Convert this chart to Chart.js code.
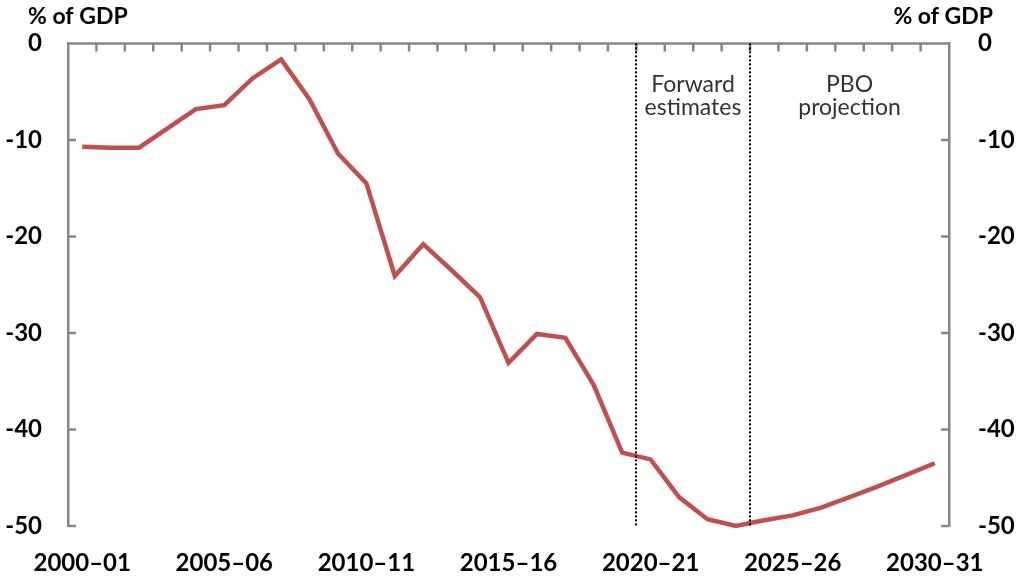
<!DOCTYPE html>
<html>
<head>
<meta charset="utf-8">
<script src="https://cdn.jsdelivr.net/npm/chart.js@4.4.1/dist/chart.umd.min.js"></script>
<style>
  html, body { margin: 0; padding: 0; background: #fff; }
  #wrap { width: 1018px; height: 576px; }
</style>
</head>
<body>
<div id="wrap"><canvas id="chart" width="1018" height="576"></canvas></div>
<script>
const years = [
  '2000–01', '2001–02', '2002–03', '2003–04', '2004–05', '2005–06', '2006–07', '2007–08',
  '2008–09', '2009–10', '2010–11', '2011–12', '2012–13', '2013–14', '2014–15', '2015–16',
  '2016–17', '2017–18', '2018–19', '2019–20', '2020–21', '2021–22', '2022–23', '2023–24',
  '2024–25', '2025–26', '2026–27', '2027–28', '2028–29', '2029–30', '2030–31'
];
const balance = [
  -10.7, -10.8, -10.8, -8.8, -6.8, -6.4, -3.6, -1.65,
  -5.8, -11.4, -14.5, -24.1, -20.8, -23.5, -26.3, -33.1,
  -30.1, -30.5, -35.4, -42.4, -43.1, -47.0, -49.3, -50.0,
  -49.4, -48.9, -48.1, -47.0, -45.9, -44.7, -43.5
];
const yTicks = [0, -10, -20, -30, -40, -50];
const axisTitle = '% of GDP';
// dotted dividers fall after these years
const breakAfter = ['2019–20', '2023–24'];
const periodNotes = [['Forward', 'estimates'], ['PBO', 'projection']];

const grey = '#868686';
const tickFont = { family: 'Lato', size: 24, weight: 'bold' };

const decor = {
  id: 'decor',
  afterDatasetsDraw(chart) {
    const { ctx, chartArea: a, scales: { x, y } } = chart;
    ctx.save();
    const y0 = y.getPixelForValue(0);

    // zero line on top with category ticks
    ctx.strokeStyle = grey;
    ctx.lineWidth = 2.5;
    ctx.beginPath();
    ctx.moveTo(a.left, y0); ctx.lineTo(a.right, y0);
    for (let i = 0; i < years.length - 1; i++) {
      const bx = (x.getPixelForValue(i) + x.getPixelForValue(i + 1)) / 2;
      ctx.moveTo(bx, y0); ctx.lineTo(bx, y0 + 8);
    }
    yTicks.forEach(v => {
      const py = y.getPixelForValue(v);
      ctx.moveTo(a.left, py); ctx.lineTo(a.left + 8, py);
      ctx.moveTo(a.right - 8, py); ctx.lineTo(a.right, py);
    });
    ctx.stroke();

    // dividers
    const edges = breakAfter.map(lbl => {
      const i = years.indexOf(lbl);
      return Math.round((x.getPixelForValue(i) + x.getPixelForValue(i + 1)) / 2);
    });
    ctx.strokeStyle = '#000';
    ctx.lineWidth = 2;
    ctx.setLineDash([2, 2]);
    edges.forEach(ex => {
      ctx.beginPath();
      ctx.moveTo(ex, a.top); ctx.lineTo(ex, a.bottom);
      ctx.stroke();
    });
    ctx.setLineDash([]);

    // period notes
    ctx.fillStyle = '#333';
    ctx.font = '23px Lato';
    ctx.textAlign = 'center';
    ctx.textBaseline = 'alphabetic';
    const bounds = [edges[0], edges[1], a.right];
    periodNotes.forEach((lines, k) => {
      const cx = (bounds[k] + bounds[k + 1]) / 2;
      lines.forEach((t, j) => ctx.fillText(t, cx, 92 + j * 23));
    });

    // axis titles
    ctx.fillStyle = '#000';
    ctx.font = 'bold 23px Lato';
    ctx.textBaseline = 'middle';
    ctx.textAlign = 'left';
    ctx.fillText(axisTitle, 28, 17);
    ctx.textAlign = 'right';
    ctx.fillText(axisTitle, 993, 17);
    ctx.restore();
  }
};

new Chart(document.getElementById('chart'), {
  type: 'line',
  data: {
    labels: years,
    datasets: [{
      data: balance,
      borderColor: '#C0504D',
      borderWidth: 4.5,
      pointRadius: 0,
      tension: 0,
      fill: false,
      clip: false,
      yAxisID: 'y'
    }]
  },
  options: {
    responsive: false,
    animation: false,
    devicePixelRatio: 1,
    layout: { padding: { top: 42, left: 0, right: 0, bottom: 0 } },
    plugins: { legend: { display: false }, tooltip: { enabled: false } },
    scales: {
      x: {
        type: 'category',
        offset: true,
        grid: { display: false, drawTicks: false },
        border: { display: false },
        ticks: {
          autoSkip: false, maxRotation: 0, padding: 23, color: '#000', font: tickFont,
          callback: (v, i) => (i % 5 === 0 ? years[i] : '')
        },
        afterFit: s => { s.height = 50; }
      },
      y: {
        position: 'left',
        min: -50, max: 0,
        grid: { display: false, drawTicks: false },
        border: { display: true, color: grey, width: 2.5 },
        ticks: { stepSize: 10, padding: 26, color: '#000', font: tickFont },
        afterFit: s => { s.width = 68; }
      },
      y2: {
        position: 'right',
        min: -50, max: 0,
        grid: { display: false, drawTicks: false },
        border: { display: true, color: grey, width: 2.5 },
        ticks: { stepSize: 10, padding: 29, color: '#000', font: tickFont },
        afterFit: s => { s.width = 69; }
      }
    }
  },
  plugins: [decor]
});
</script>
</body>
</html>
